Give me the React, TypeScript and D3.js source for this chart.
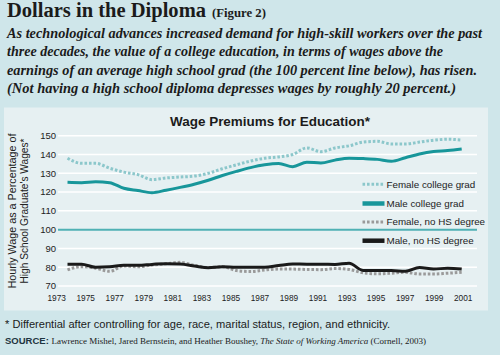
import React from "react";
import * as d3 from "d3";

const years = d3.range(1973, 2002);
const tickYears = [1973, 1975, 1977, 1979, 1981, 1983, 1985, 1987, 1989, 1991, 1993, 1995, 1997, 1999, 2001];
const yTicks = [70, 80, 90, 100, 110, 120, 130, 140, 150];

const femaleCollege = [138, 135.3, 135.3, 132.7, 130.6, 129.3, 126.6, 127.5, 128, 128.5, 130, 132.4, 134.5, 136.5, 138, 138.7, 140, 143.5, 141.5, 143.5, 144.6, 146.6, 147, 145.6, 145.6, 146.6, 147.6, 148.1, 147.7];
const maleCollege = [125.2, 125, 125.5, 125, 122, 120.8, 119.7, 121, 122.5, 124.2, 126.3, 128.8, 131, 133, 134.5, 135.2, 133.5, 135.9, 135.5, 137, 138, 137.8, 137.4, 136.4, 138.3, 140.3, 141.6, 142.1, 142.9];
const femaleNoHS = [78.6, 80.3, 79.5, 77.8, 80.7, 80.2, 81.2, 81.8, 82.6, 81, 79.8, 80.3, 78.2, 77.7, 78.5, 79, 79, 78.8, 78.7, 79.3, 78.8, 77, 76.5, 76.8, 77.3, 76.4, 76.4, 76.8, 77.3];
const maleNoHS = [81.6, 81.6, 80, 80.2, 81, 81, 81.5, 81.9, 81.7, 80.7, 79.7, 80.2, 80, 80, 80, 80.9, 81.7, 81.6, 81.6, 81.5, 82.1, 78.3, 78.2, 78.2, 77.8, 79.8, 79, 79.5, 79];

const seriesNames = ["Female college grad", "Male college grad", "Female, no HS degree", "Male, no HS degree"];

const subtitleLines = [
  "As technological advances increased demand for high-skill workers over the past",
  "three decades, the value of a college education, in terms of wages above the",
  "earnings of an average high school grad (the 100 percent line below), has risen.",
  "(Not having a high school diploma depresses wages by roughly 20 percent.)",
];

const OUTER = "#cfe6ea";
const PANEL = "#e6f0f2";
const TEAL = "#17969a";
const TEAL_LIGHT = "#8cc7cb";
const GREY = "#9a9a9a";
const BLACK = "#1a1a1a";

const styles = [
  { color: TEAL_LIGHT, dash: "2.6,1.9", width: 3 },
  { color: TEAL, dash: null, width: 3 },
  { color: GREY, dash: "2.6,1.9", width: 3 },
  { color: BLACK, dash: null, width: 3 },
];

export default function App() {
  const W = 500, H = 355;
  const xData = d3.scaleLinear().domain([1973, 2001]).range([67.5, 461.7]);
  const xTick = d3.scaleLinear().domain([1973, 2001]).range([56.7, 463.2]);
  const y = d3.scaleLinear().domain([70, 150]).range([286, 135.7]);
  const line = d3.line<number>().x((_, i) => xData(years[i])).y((v) => y(v)).curve(d3.curveMonotoneX);
  const allSeries = [femaleCollege, maleCollege, femaleNoHS, maleNoHS];
  const sans = "'Liberation Sans', Arial, sans-serif";
  const serif = "'Liberation Serif', 'Times New Roman', serif";
  const subtitleWidths = [475, 436, 470, 449];
  const legendY = [184.3, 203.5, 222, 240.7];

  return (
    <div style={{ position: "absolute", left: 0, top: 0 }}>
      <svg width={W} height={H} style={{ display: "block" }}>
        <rect x={0} y={0} width={W} height={H} fill={OUTER} />
        <text x={7} y={17} fontFamily={serif} fontWeight="bold" fontSize={20} fill="#1b1b1b" textLength={199} lengthAdjust="spacingAndGlyphs">Dollars in the Diploma</text>
        <text x={212} y={17} fontFamily={serif} fontWeight="bold" fontSize={13} fill="#1b1b1b" textLength={54} lengthAdjust="spacingAndGlyphs">(Figure 2)</text>
        {subtitleLines.map((t, i) => (
          <text key={i} x={7} y={37.5 + i * 18.6} fontFamily={serif} fontStyle="italic" fontWeight="bold" fontSize={14.5} fill="#1b1b1b" textLength={subtitleWidths[i]} lengthAdjust="spacingAndGlyphs">{t}</text>
        ))}
        <rect x={4} y={107.5} width={484} height={203} fill={PANEL} />
        <text x={270} y={126} textAnchor="middle" fontFamily={sans} fontWeight="bold" fontSize={12} fill="#1b1b1b" textLength={200} lengthAdjust="spacingAndGlyphs">Wage Premiums for Education*</text>
        {yTicks.map((v) => (
          <line key={v} x1={58} x2={477} y1={y(v)} y2={y(v)} stroke={v === 100 ? "#4fb1b4" : "#ffffff"} strokeWidth={v === 100 ? 2 : 1.5} />
        ))}
        {yTicks.map((v) => (
          <text key={"l" + v} x={56} y={y(v)} dy="0.35em" textAnchor="end" fontFamily={sans} fontSize={9.5} fill="#222">{v}</text>
        ))}
        {tickYears.map((yr) => (
          <text key={yr} x={xTick(yr)} y={301} textAnchor="middle" fontFamily={sans} fontSize={8.3} fill="#222">{yr}</text>
        ))}
        <g transform="translate(16,211) rotate(-90)">
          <text x={0} y={0} textAnchor="middle" fontFamily={sans} fontSize={10} fill="#222" textLength={155} lengthAdjust="spacingAndGlyphs">Hourly Wage as a Percentage of</text>
          <text x={0} y={11.5} textAnchor="middle" fontFamily={sans} fontSize={10} fill="#222" textLength={145} lengthAdjust="spacingAndGlyphs">High School Graduate's Wages*</text>
        </g>
        {allSeries.map((s, i) => (
          <path key={i} d={line(s) || ""} fill="none" stroke={styles[i].color} strokeWidth={styles[i].width} strokeDasharray={styles[i].dash || undefined} />
        ))}
        {seriesNames.map((n, i) => (
          <g key={n}>
            <line x1={362.5} x2={384.5} y1={legendY[i]} y2={legendY[i]} stroke={styles[i].color} strokeWidth={styles[i].dash ? 3 : 4.5} strokeDasharray={styles[i].dash || undefined} />
            <text x={386.5} y={legendY[i]} dy="0.35em" fontFamily={sans} fontSize={9.8} fill="#222">{n}</text>
          </g>
        ))}
        <text x={5} y={328} fontFamily={sans} fontSize={10.5} fill="#1b1b1b" textLength={385} lengthAdjust="spacingAndGlyphs">* Differential after controlling for age, race, marital status, region, and ethnicity.</text>
        <text x={5} y={344} fontSize={9} fill="#1b1b1b">
          <tspan fontFamily={sans} fontWeight="bold" fontSize={9.5} fill="#1e3440">SOURCE: </tspan>
          <tspan fontFamily={serif}>Lawrence Mishel, Jared Bernstein, and Heather Boushey, </tspan>
          <tspan fontFamily={serif} fontStyle="italic">The State of Working America</tspan>
          <tspan fontFamily={serif}> (Cornell, 2003)</tspan>
        </text>
      </svg>
    </div>
  );
}
